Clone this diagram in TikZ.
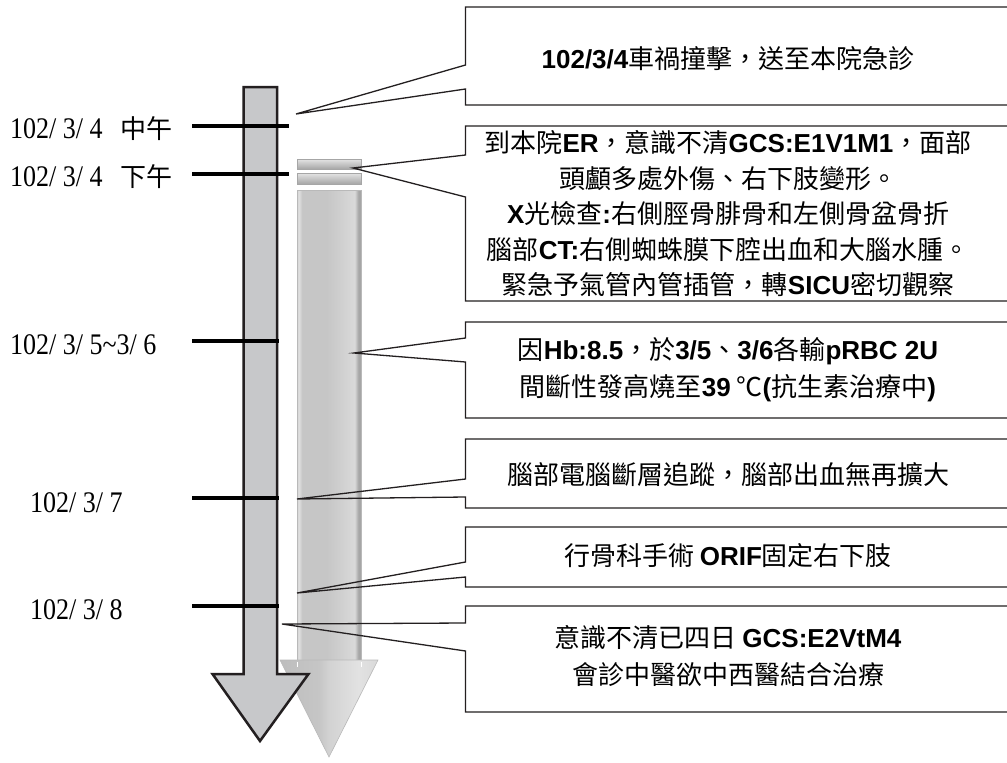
\documentclass[tikz,border=0pt]{standalone}
\usepackage{fontspec}
\setmainfont{Liberation Serif}
\newfontfamily\arfont{Liberation Sans}
\newfontfamily\cjfont{Noto Sans CJK TC}
\newcommand\arb[1]{{\arfont\bfseries #1}}
\newcommand\tallt[1]{\scalebox{1}[1.15]{#1}}
\definecolor{ink}{HTML}{231F20}
\definecolor{shaftgray}{HTML}{C7C8CA}
\definecolor{rA}{HTML}{E4E4E4}
\definecolor{rB}{HTML}{C6C6C6}
\definecolor{rC}{HTML}{D9D9D9}
\definecolor{rD}{HTML}{A6A6A6}
\definecolor{rE}{HTML}{B0B0B0}
\definecolor{hA}{HTML}{BDBDBD}
\definecolor{hB}{HTML}{D2D2D2}
\definecolor{hC}{HTML}{E2E2E2}
\pgfdeclarehorizontalshading{shaftshade}{100bp}{color(0bp)=(rE); color(25bp)=(rE); color(26bp)=(rA); color(29bp)=(rB); color(48bp)=(rB); color(70bp)=(rC); color(73bp)=(rD); color(75bp)=(rD); color(100bp)=(rD)}
\pgfdeclarehorizontalshading{headshade}{100bp}{color(0bp)=(hA); color(25bp)=(hA); color(45bp)=(rB); color(50bp)=(hB); color(65bp)=(hC); color(75bp)=(rC); color(100bp)=(rC)}
\tikzset{
  datelabel/.style={anchor=west, inner sep=0pt, font=\fontsize{26}{30}\selectfont},
  tick/.style={draw=black, line width=4.5pt},
  callout/.style={draw=ink, line width=1.3pt, line join=miter},
  boxtext/.style={align=center, inner sep=0pt, font=\cjfont\fontsize{26}{36}\selectfont},
  bar/.style={top color=rA, bottom color=rD, draw=gray!70, line width=0.6pt}
}
\begin{document}
\begin{tikzpicture}[x=1pt,y=-1pt]
\useasboundingbox (0,0) rectangle (1007,763);
\fill[white] (0,0) rectangle (1007,763);

% right (shaded) arrow
\shade[shading=shaftshade] (297,190) rectangle (361,662);
\draw[gray!55, line width=0.6pt] (297,190) rectangle (361,662);
\shade[shading=headshade] (280,660) -- (378,660) -- (329,757) -- cycle;
\draw[gray!55, line width=0.6pt] (280,660) -- (378,660) -- (329,757) -- cycle;
\draw[white, line width=0.8pt] (297,662) -- (297,667);
\draw[white, line width=0.8pt] (361,662) -- (361,667);
\draw[bar] (297,159) rectangle (361,169);
\draw[bar] (297,173) rectangle (361,184);

% left arrow
\draw[draw=ink, line width=2.5pt, fill=shaftgray, line join=miter]
  (243.5,87) -- (277,87) -- (277,674) -- (308.5,674) -- (260,741) -- (212.5,674) -- (243.5,674) -- cycle;

% ticks
\draw[tick] (192,126) -- (289,126);
\draw[tick] (192,174) -- (289,174);
\draw[tick] (192,341) -- (279,341);
\draw[tick] (192,498) -- (279,498);
\draw[tick] (192,606) -- (279,606);

% date labels
\node[datelabel] (d1) at (10,129) {\tallt{102/ 3/ 4}\hspace{18pt}{\cjfont 中午}};
\node[datelabel] (d2) at (10,177) {\tallt{102/ 3/ 4}\hspace{18pt}{\cjfont 下午}};
\node[datelabel] (d3) at (10,345) {\tallt{102/ 3/ 5\textasciitilde3/ 6}};
\node[datelabel] (d4) at (30,503) {\tallt{102/ 3/ 7}};
\node[datelabel] (d5) at (30,610) {\tallt{102/ 3/ 8}};

% pointer tips
\coordinate (p1) at (296,114);
\coordinate (p2) at (353,168);
\coordinate (p3) at (354,353);
\coordinate (p4) at (297,499);
\coordinate (p5) at (297,593);
\coordinate (p6) at (282,624);

% callout boxes
\draw[callout] (1008,7) -- (465.5,7) -- (465.5,65) -- (p1) -- (465.5,89) -- (465.5,105) -- (1008,105);
\draw[callout] (1008,126) -- (465.5,126) -- (465.5,155) -- (p2) -- (465.5,197) -- (465.5,301) -- (1008,301);
\draw[callout] (1008,322) -- (465.5,322) -- (465.5,338) -- (p3) -- (465.5,362) -- (465.5,418) -- (1008,418);
\draw[callout] (1008,439) -- (465.5,439) -- (465.5,479) -- (p4) -- (465.5,497) -- (465.5,508) -- (1008,508);
\draw[callout] (1008,527) -- (465.5,527) -- (465.5,562) -- (p5) -- (465.5,577) -- (465.5,587) -- (1008,587);
\draw[callout] (1008,606) -- (465.5,606) -- (465.5,623) -- (p6) -- (465.5,651) -- (465.5,712) -- (1008,712);

% box texts
\node[boxtext] (t1) at (728,59) {\arb{102/3/4}車禍撞擊，送至本院急診};
\node[boxtext, font=\cjfont\fontsize{26}{35.5}\selectfont] (t2) at (728,214) {到本院\arb{ER}，意識不清\arb{GCS:E1V1M1}，面部\\頭顱多處外傷、右下肢變形。\\\arb{X}光檢查\arb{:}右側脛骨腓骨和左側骨盆骨折\\腦部\arb{CT:}右側蜘蛛膜下腔出血和大腦水腫。\\緊急予氣管內管插管，轉\arb{SICU}密切觀察};
\node[boxtext, font=\cjfont\fontsize{26}{37}\selectfont] (t3) at (728,370) {因\arb{Hb:8.5}，於\arb{3/5}、\arb{3/6}各輸\arb{pRBC 2U}\\間斷性發高燒至\arb{39} ℃\arb{(}抗生素治療中\arb{)}};
\node[boxtext] (t4) at (728,475) {腦部電腦斷層追蹤，腦部出血無再擴大};
\node[boxtext] (t5) at (728,556) {行骨科手術 \arb{ORIF}固定右下肢};
\node[boxtext, font=\cjfont\fontsize{26}{37}\selectfont] (t6) at (728,656) {意識不清已四日 \arb{GCS:E2VtM4}\\會診中醫欲中西醫結合治療};
\end{tikzpicture}
\end{document}
